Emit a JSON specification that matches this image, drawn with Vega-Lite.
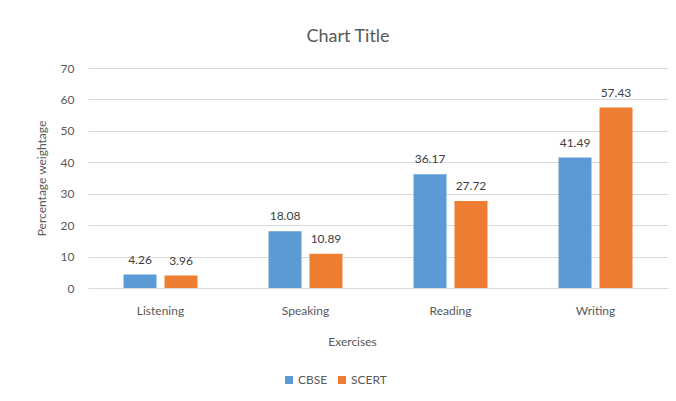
{
  "$schema": "https://vega.github.io/schema/vega-lite/v6.json",
  "autosize": "none",
  "width": 580,
  "height": 220,
  "padding": {"left": 88, "top": 68, "right": 8, "bottom": 113},
  "background": "white",
  "title": {"text": "Chart Title", "fontSize": 18, "font": "Lato", "fontWeight": "normal", "color": "#595959", "anchor": "middle", "dx": -30, "offset": 16},
  "data": {"values": [
    {"exercise": "Listening", "board": "CBSE", "value": 4.26},
    {"exercise": "Listening", "board": "SCERT", "value": 3.96},
    {"exercise": "Speaking", "board": "CBSE", "value": 18.08},
    {"exercise": "Speaking", "board": "SCERT", "value": 10.89},
    {"exercise": "Reading", "board": "CBSE", "value": 36.17},
    {"exercise": "Reading", "board": "SCERT", "value": 27.72},
    {"exercise": "Writing", "board": "CBSE", "value": 41.49},
    {"exercise": "Writing", "board": "SCERT", "value": 57.43}
  ]},
  "encoding": {
    "x": {"field": "exercise", "type": "nominal", "sort": ["Listening", "Speaking", "Reading", "Writing"],
      "scale": {"paddingInner": 0.49, "paddingOuter": 0.245},
      "axis": {"title": "Exercises", "labelAngle": 0, "ticks": false, "domainColor": "#D9D9D9", "labelPadding": 17, "titlePadding": 20, "titleX": 264, "labelFontSize": 12, "titleFontSize": 12}},
    "xOffset": {"field": "board", "type": "nominal", "scale": {"paddingInner": 0.195}},
    "y": {"field": "value", "type": "quantitative",
      "scale": {"domain": [0, 70]},
      "axis": {"title": "Percentage weightage", "values": [0, 10, 20, 30, 40, 50, 60, 70], "domain": false, "ticks": false, "gridColor": "#D9D9D9", "labelPadding": 14, "titlePadding": 12, "labelFontSize": 12, "titleFontSize": 12}}
  },
  "layer": [
    {"mark": {"type": "bar"},
     "encoding": {"color": {"field": "board", "type": "nominal", "scale": {"domain": ["CBSE", "SCERT"], "range": ["#5B9BD5", "#ED7D31"]},
       "legend": {"title": null, "orient": "none", "direction": "horizontal", "legendX": 195, "legendY": 306, "symbolType": "square", "symbolSize": 64, "labelFontSize": 12, "columnPadding": 8, "labelOffset": 3}}}},
    {"mark": {"type": "text", "dy": -15, "fontSize": 12, "font": "Lato", "color": "#404040"},
     "encoding": {"text": {"field": "value", "type": "quantitative", "format": ".2f"}}}
  ],
  "config": {
    "font": "Lato",
    "view": {"stroke": null},
    "axis": {"labelColor": "#595959", "titleColor": "#595959", "titleFontWeight": "normal", "labelFont": "Lato", "titleFont": "Lato"},
    "legend": {"labelColor": "#595959", "labelFont": "Lato"}
  }
}
